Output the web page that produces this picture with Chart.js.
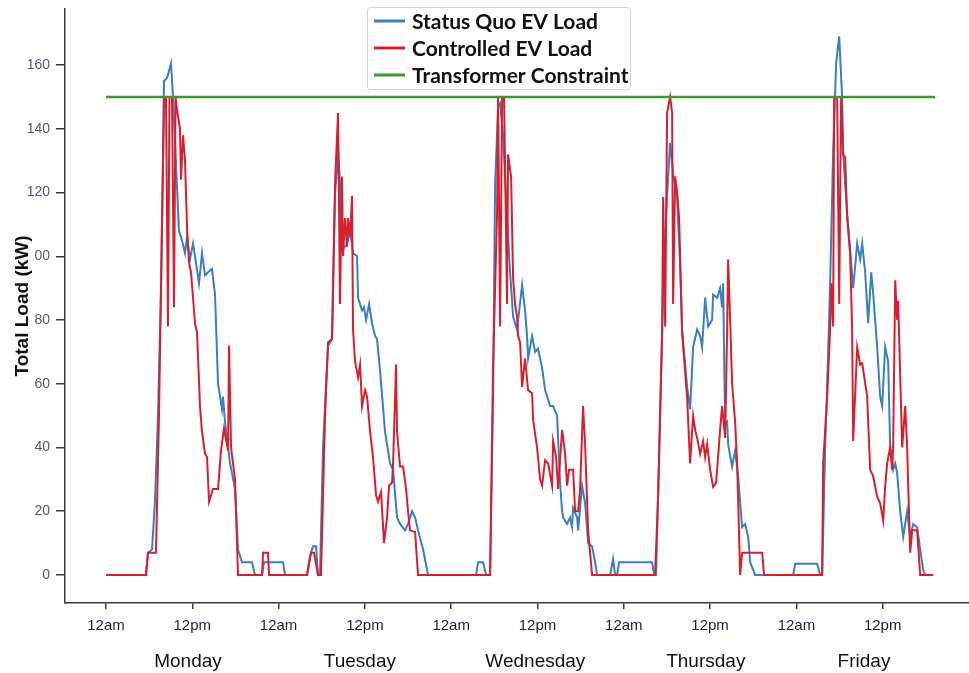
<!DOCTYPE html>
<html>
<head>
<meta charset="utf-8">
<title>EV Load vs Transformer Constraint</title>
<script src="https://cdn.jsdelivr.net/npm/chart.js@4.4.1/dist/chart.umd.min.js"></script>
<style>
  html, body { margin: 0; padding: 0; background: #fff; }
  #wrap { position: relative; width: 969px; height: 673px; }
</style>
</head>
<body>
<div id="wrap"><canvas id="loadChart"></canvas></div>
<script>
// time is in hours since Monday 12am, load in kW

const statusQuoHours = [0, 5.56, 5.84, 6.40, 6.81, 7.23, 7.65, 7.93, 8.07, 8.48, 8.62, 9.04, 9.32, 9.60, 9.87, 10.15, 10.57, 10.99, 11.27, 11.68, 12.10, 12.38, 12.93, 13.35, 13.77, 14.19, 14.74, 15.16, 15.58, 16.13, 16.27, 16.55, 17.25, 17.94, 18.36, 18.91, 20.31, 20.72, 21.70, 21.97, 24.62, 24.90,
  27.96, 28.37, 28.79, 29.21, 29.48, 29.76, 30.18, 30.60, 30.88, 31.43, 31.85, 32.13, 32.27, 32.54, 32.82, 33.24, 33.52, 33.94, 34.35, 34.91, 35.05, 35.60, 35.88, 36.16, 36.58, 37.00, 37.41, 37.69, 38.11, 38.80, 39.50, 39.92, 40.47, 40.89, 41.58, 42.00, 42.56, 42.98, 43.39, 44.09, 44.78, 51.46, 51.74, 52.43, 52.85,
  53.41, 53.82, 54.10, 54.52, 54.80, 55.21, 55.77, 56.19, 56.61, 57.16, 57.86, 58.27, 58.55, 58.69, 59.25, 59.67, 60.08, 60.64, 61.06, 61.75, 62.17, 62.73, 62.86, 63.14, 63.42, 63.56, 64.12, 64.53, 64.81, 64.95, 65.51, 65.65, 66.20, 66.62, 67.04, 67.59, 68.01, 68.29, 70.10, 70.51, 70.79, 71.07, 71.35, 75.94, 76.22,
  76.49, 77.05, 77.61, 78.02, 78.44, 78.86, 79.42, 79.83, 80.11, 80.25, 80.80, 81.22, 81.64, 82.20, 82.62, 82.89, 83.31, 83.73, 84.28, 84.42, 84.98, 85.39, 85.67, 85.81, 86.09, 86.37, 86.51, 87.06, 87.48, 87.90, 88.45, 88.87, 89.29, 89.57, 90.26, 95.55, 95.83, 98.89, 99.30,
  99.58, 100.00, 100.42, 100.69, 101.11, 101.53, 101.95, 102.36, 102.50, 103.06, 103.89, 104.45, 104.87, 105.15, 105.56, 105.98, 106.40, 106.67, 107.23, 107.65, 107.93, 108.34, 108.76, 109.04, 109.45, 109.74, 110.01, 110.43, 110.85, 111.40, 111.82, 112.24, 112.79, 113.21, 113.63, 113.91, 115.02];
const statusQuoLoad = [0, 0, 7, 8, 23, 50, 90, 130, 155, 156, 157, 160.5, 150, 136, 122, 108, 105, 101, 106, 99, 104, 100, 91.5, 101, 94, 95, 96, 88, 60, 52, 56, 48, 35, 27, 8, 4, 4, 0, 0, 4, 4, 0,
  0, 6, 9, 9, 0, 0, 40, 60, 72, 74, 120, 127, 134, 123, 102, 103, 104, 108, 101, 100, 87, 83, 84, 80, 85, 79, 75, 74, 64, 45, 35, 33, 18, 16, 14, 16, 20, 18, 14, 8, 0, 0, 4, 4, 0,
  0, 56, 122, 147, 148, 138, 112, 95, 81, 77, 91, 83, 75, 68, 75, 70, 71, 65, 58, 53, 53, 50, 43, 29, 20, 18, 16, 18, 15, 21, 18, 14, 28, 22.5, 10, 9, 4, 0, 0, 5, 0, 0, 4, 4, 0,
  0, 50, 100, 119, 135.5, 126, 118, 97, 77, 73, 59, 52, 71.5, 77, 75, 71.5, 87, 78, 80, 88, 87, 90, 84, 91.5, 47, 48, 41, 34, 39, 31, 15, 16, 12, 4, 0, 0, 3.5, 3.5, 0,
  0, 40, 70, 91.5, 133, 160.6, 169, 150, 132, 113.6, 90, 104, 99, 104, 95, 79, 95, 88.5, 71.5, 56, 53, 71.5, 67, 40, 33, 35, 32, 20, 12, 20, 12, 16, 15, 8, 1.5, 0, 0];

const controlledHours = [0, 5.56, 5.84, 6.95, 7.37, 7.65, 8.07, 8.34, 8.62, 8.83, 9.18, 9.46, 9.67, 9.87, 10.29, 10.43, 10.71, 10.99, 11.27, 11.54, 11.82, 12.10, 12.38, 12.66, 13.07, 13.35, 13.77, 14.05, 14.33, 14.88, 15.58, 15.99, 16.41, 16.97, 17.11, 17.39, 17.94, 18.36, 21.70, 21.84, 22.53, 22.67,
  27.96, 28.51, 28.93, 29.48, 29.90, 30.46, 30.88, 31.43, 31.85, 32.27, 32.54, 32.82, 32.96, 33.24, 33.52, 33.66, 33.94, 34.21, 34.35, 34.63, 35.05, 35.33, 35.60, 36.02, 36.30, 36.72, 37.13, 37.55, 37.83, 38.25, 38.66, 39.08, 39.36, 39.78, 39.92, 40.33, 40.47, 40.89, 41.31, 41.72, 42.00, 42.28, 42.98, 43.39,
  53.41, 53.82, 54.38, 54.52, 54.80, 55.08, 55.35, 55.77, 55.91, 56.33, 56.61, 56.88, 57.16, 57.30, 57.58, 57.86, 58.27, 58.69, 59.25, 59.39, 59.94, 60.36, 60.64, 61.06, 61.47, 62.03, 62.17, 62.59, 62.86, 63.42, 63.84, 64.12, 64.39, 64.95, 65.23, 65.65, 65.92, 66.34, 66.62, 67.04, 67.31, 67.59,
  76.35, 76.77, 77.33, 77.47, 77.75, 78.02, 78.44, 78.72, 78.86, 79.14, 79.42, 79.69, 80.11, 80.80, 81.22, 81.64, 81.92, 82.20, 82.62, 83.03, 83.31, 83.59, 84.00, 84.42, 84.84, 85.39, 85.67, 86.09, 86.37, 86.51, 86.79, 87.06, 87.48, 87.76, 88.18, 88.45, 91.24, 91.51,
  99.58, 99.72, 100.28, 100.69, 100.83, 101.11, 101.25, 101.67, 101.95, 102.22, 102.50, 102.78, 103.06, 103.47, 103.75, 103.89, 104.45, 104.87, 105.15, 105.84, 106.26, 106.67, 107.23, 107.65, 108.07, 108.34, 108.62, 109.04, 109.32, 109.45, 109.74, 110.01, 110.15, 110.71, 111.13, 111.40, 111.82, 112.10, 112.79, 113.21, 115.02];
const controlledLoad = [0, 0, 7, 7, 50, 90, 150, 150, 78, 150, 150, 84, 150, 146, 140, 124, 138, 130, 109, 98, 95, 87, 79, 76, 53, 45, 38, 37, 23, 27, 27, 39, 46, 39, 72, 40, 30, 0, 0, 7, 7, 0,
  0, 7, 7, 0, 0, 50, 73, 74, 123, 145, 85, 125, 100, 112, 103, 112, 106, 119, 77, 67, 62, 66, 53, 58, 56, 45, 37, 25, 23, 26, 10, 18, 28, 29, 35, 66, 45, 34, 34, 27, 20, 14, 13.5, 0,
  0, 65, 114, 150, 78, 150, 150, 85, 132, 125, 93, 85, 81, 75, 73, 59, 68, 58, 57, 48.6, 40, 30, 28, 36, 35, 28, 42, 37, 27, 45.5, 38, 28, 33, 33, 20, 20, 27, 53, 41, 14, 7, 0,
  0, 24.5, 77, 118.6, 78, 145, 150, 145, 85, 125, 120, 112, 76, 56, 35, 50, 45.5, 43, 38, 42, 37, 41, 33, 27.6, 29, 45.5, 53, 43, 77, 99, 80, 60, 48, 35, 0, 7, 7, 0,
  0, 35, 56, 77, 91.5, 78, 150, 150, 85, 150, 132, 131, 112, 101, 77, 42, 71.5, 66, 66.5, 56, 33, 31, 24.5, 22.5, 17, 27.6, 35, 40, 33, 40, 92.5, 80, 86, 40, 53, 40, 7, 14, 14, 0, 0];

const limitHours = [0, 115.3];
const limitLoad = [150, 150];

const hourTicks = [0, 12, 24, 36, 48, 60, 72, 84, 96, 108];
const hourLabels = ["12am", "12pm", "12am", "12pm", "12am", "12pm", "12am", "12pm", "12am", "12pm"];
const dayTicks = [11.4, 35.3, 59.7, 83.4, 105.4];
const dayLabels = ["Monday", "Tuesday", "Wednesday", "Thursday", "Friday"];
const loadTicks = [0, 20, 40, 60, 80, 100, 120, 140, 160];
const loadLabels = ["0", "20", "40", "60", "80", "00", "120", "140", "160"];

const hourMin = -5.7, hourMax = 120;
const loadMin = -8.8, loadMax = 177.6;

const toPoints = (xs, ys) => xs.map((x, i) => ({ x: x, y: ys[i] }));

// legend drawn as a framed box over the plot, like the original
const boxLegend = {
  id: "boxLegend",
  afterDraw(chart) {
    const ctx = chart.ctx;
    ctx.save();
    ctx.fillStyle = "#fff";
    ctx.strokeStyle = "#d4d4d4";
    ctx.lineWidth = 1;
    ctx.beginPath();
    ctx.roundRect(367.5, 7.5, 263, 82, 3);
    ctx.fill();
    ctx.stroke();
    ctx.font = "bold 21px Lato";
    ctx.textBaseline = "middle";
    chart.data.datasets.forEach((ds, i) => {
      const y = 21 + i * 27;
      ctx.strokeStyle = ds.borderColor;
      ctx.lineWidth = 3;
      ctx.beginPath();
      ctx.moveTo(374, y);
      ctx.lineTo(405, y);
      ctx.stroke();
      ctx.fillStyle = "#111";
      ctx.fillText(ds.label, 412, y + 1);
    });
    ctx.restore();
  }
};

const axisColor = "#3a3a3a";

// keep the plot edges where the axes sit, no extra label padding
const noScalePadding = s => {
  s.paddingTop = 0;
  s.paddingBottom = 0;
  s.paddingLeft = 0;
  s.paddingRight = 0;
};

new Chart(document.getElementById("loadChart"), {
  type: "line",
  data: {
    datasets: [
      {
        label: "Status Quo EV Load",
        data: toPoints(statusQuoHours, statusQuoLoad),
        borderColor: "#3a7fbf",
        borderWidth: 2,
        pointRadius: 0,
        tension: 0,
        order: 2
      },
      {
        label: "Controlled EV Load",
        data: toPoints(controlledHours, controlledLoad),
        borderColor: "#d71f30",
        borderWidth: 2,
        pointRadius: 0,
        tension: 0,
        order: 1
      },
      {
        label: "Transformer Constraint",
        data: toPoints(limitHours, limitLoad),
        borderColor: "#3a9a2c",
        borderWidth: 2.5,
        pointRadius: 0,
        tension: 0,
        order: 0
      }
    ]
  },
  options: {
    responsive: true,
    maintainAspectRatio: false,
    devicePixelRatio: 1,
    animation: false,
    layout: { padding: { top: 9, right: 0, bottom: 0, left: 0 } },
    plugins: {
      legend: { display: false },
      tooltip: { enabled: false }
    },
    scales: {
      x: {
        type: "linear",
        position: "bottom",
        min: hourMin,
        max: hourMax,
        afterBuildTicks: s => { s.ticks = [hourMin].concat(hourTicks).map(v => ({ value: v })); },
        afterFit: s => { s.height = 44; noScalePadding(s); },
        ticks: {
          autoSkip: false,
          maxRotation: 0,
          padding: 8,
          color: "#1e1e3a",
          font: { family: "'Liberation Sans', Arial", size: 15 },
          callback: (v, i) => (i === 0 ? null : hourLabels[i - 1])
        },
        grid: { drawOnChartArea: false, tickLength: 6, color: axisColor, lineWidth: 1.5 },
        border: { display: true, color: axisColor, width: 1.5 }
      },
      xDay: {
        type: "linear",
        position: "bottom",
        weight: 1,
        min: hourMin,
        max: hourMax,
        afterBuildTicks: s => { s.ticks = dayTicks.map(v => ({ value: v })); },
        afterFit: s => { s.height = 26; noScalePadding(s); },
        ticks: {
          autoSkip: false,
          maxRotation: 0,
          padding: 3,
          color: "#111",
          font: { family: "'Liberation Sans', Arial", size: 19 },
          callback: (v, i) => dayLabels[i]
        },
        grid: { display: false, drawTicks: false },
        border: { display: false }
      },
      y: {
        type: "linear",
        position: "left",
        min: loadMin,
        max: loadMax,
        afterBuildTicks: s => { s.ticks = [loadMin].concat(loadTicks, [loadMax]).map(v => ({ value: v })); },
        afterFit: s => { s.width = 65; noScalePadding(s); },
        ticks: {
          autoSkip: false,
          padding: 6,
          color: "#5a5a6e",
          font: { family: "'Liberation Sans', Arial", size: 14 },
          callback: (v, i) => (i === 0 || i === loadTicks.length + 1 ? null : loadLabels[i - 1])
        },
        grid: { drawOnChartArea: false, tickLength: 9, color: axisColor, lineWidth: 1.5 },
        border: { display: true, color: axisColor, width: 1.5 },
        title: {
          display: true,
          text: "Total Load (kW)",
          color: "#111",
          font: { family: "'Liberation Sans', Arial", size: 19, weight: "bold" },
          padding: { top: 11, bottom: 0 }
        }
      }
    }
  },
  plugins: [boxLegend]
});
</script>
</body>
</html>
